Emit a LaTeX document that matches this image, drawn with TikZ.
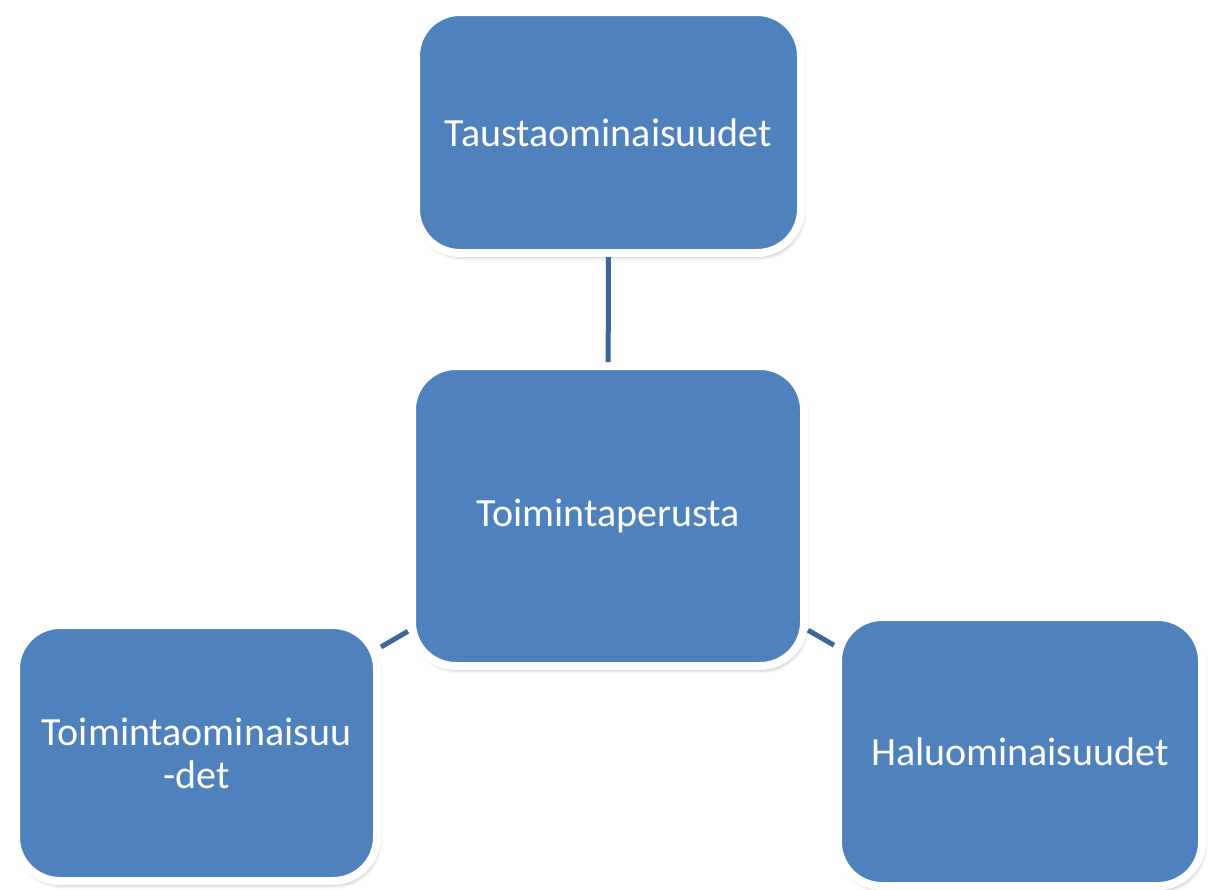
\documentclass[tikz,border=0pt]{standalone}
\usepackage{fontspec}
\setmainfont{Carlito}
\usepackage{tikz}
\usetikzlibrary{shadows.blur}
\definecolor{boxblue}{RGB}{79,129,189}
\definecolor{linkblue}{RGB}{61,103,152}
\tikzset{
    topicbox/.style={
        rectangle, rounded corners=22pt, draw=white, fill=boxblue,
        line width=4pt, text=white, align=center,
        font=\fontsize{20}{21.5}\selectfont,
        blur shadow={shadow xshift=1pt, shadow yshift=-2pt,
            shadow blur steps=6, shadow opacity=30}
    },
    link/.style={
        draw=linkblue, line width=2.5pt
    }
}

\begin{document}
\begin{tikzpicture}[x=0.5pt, y=-0.5pt]
    \useasboundingbox (0,0) rectangle (1214,889);

    \node[topicbox, minimum width=192.5pt, minimum height=120.5pt] (tausta) at (608.5,132.5) {Taustaominaisuudet};
    \node[topicbox, minimum width=196pt, minimum height=150pt] (perusta) at (608,516) {Toimintaperusta};
    \node[topicbox, minimum width=180.5pt, minimum height=128pt] (toiminta) at (196.5,753) {Toimintaominaisuu\\-det};
    \node[topicbox, minimum width=182pt, minimum height=134.5pt] (halu) at (1020,751.5) {Haluominaisuudet};

    \draw[link] (tausta) -- (perusta);
    \draw[link] (perusta) -- (toiminta);
    \draw[link] (perusta) -- (halu);
\end{tikzpicture}
\end{document}
